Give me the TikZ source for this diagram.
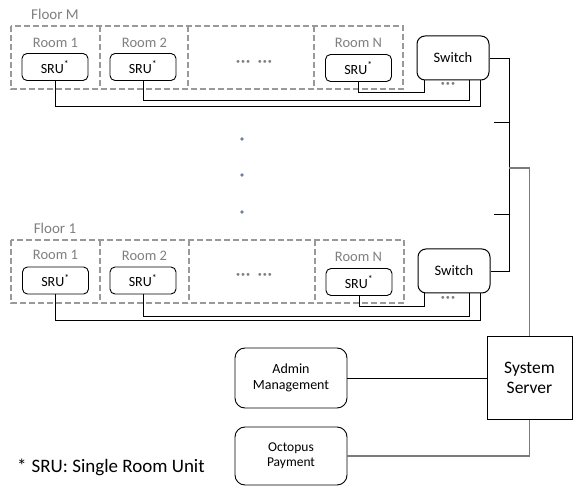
\documentclass[tikz,border=0pt]{standalone}
\usepackage{fontspec}
\setmainfont{Carlito}
\definecolor{dashgray}{HTML}{999999}
\definecolor{labelgray}{HTML}{7F7F7F}
\definecolor{wiregray}{HTML}{7A7A7A}
\definecolor{dotcol}{HTML}{6F8299}
\begin{document}
\begin{tikzpicture}[x=1pt,y=-1pt,
  font=\fontsize{14.5}{16}\selectfont,
  cell/.style={draw=dashgray, line width=1.1pt, dash pattern=on 6pt off 3pt},
  sru/.style={draw, rounded corners=5pt, minimum width=66pt, minimum height=27pt, inner sep=0pt, line width=0.9pt, font=\fontsize{14}{15}\selectfont},
  sw/.style={draw, rounded corners=8pt, minimum width=72pt, minimum height=44pt, inner sep=0pt, line width=1pt, font=\fontsize{14.5}{16}\selectfont},
  lbl/.style={text=labelgray, inner sep=0pt},
  more/.style={text=labelgray, inner sep=0pt, font=\fontsize{20}{20}\selectfont},
  wire/.style={line width=0.9pt},
  gwire/.style={draw=wiregray, line width=1.8pt},
  gwirethin/.style={draw=wiregray, line width=1.3pt},
  app/.style={draw, rounded corners=10pt, minimum width=112pt, minimum height=60pt, inner sep=0pt, line width=0.9pt, align=center},
  vdot/.style={fill=dotcol, draw=none}
]
\useasboundingbox (0,0) rectangle (573,486);

% ---------------- Floor M ----------------
\node[lbl, font=\fontsize{15}{16}\selectfont] (floorM) at (55,14) {Floor M};
\draw[cell] (11,26) rectangle (403,89);
\draw[cell] (100,26) -- (100,89);
\draw[cell] (188,26) -- (188,89);
\draw[cell] (314,26) -- (314,89);
\node[lbl] (rM1) at (55.5,43) {Room 1};
\node[lbl] (rM2) at (144.5,43) {Room 2};
\node[lbl] (rMN) at (358.5,43) {Room N};
\node[sru] (sM1) at (55,67) {SRU\textsuperscript{*}};
\node[sru] (sM2) at (143,67) {SRU\textsuperscript{*}};
\node[sru] (sMN) at (358.5,68) {SRU\textsuperscript{*}};
\node[more] (dotsM) at (254,64) {···\,\,···};
\node[sw] (swM) at (453,58) {Switch};
\node[more] (swdotsM) at (448,86) {···};

\coordinate (bM1) at (480,106);
\coordinate (bM2) at (469,100);
\coordinate (bMN) at (424,92);
\draw[wire] (sM1.south) |- (bM1) -- (bM1 |- swM.south);
\draw[wire] (sM2.south) |- (bM2) -- (bM2 |- swM.south);
\draw[wire] (sMN.south) |- (bMN) -- (bMN |- swM.south);

% ---------------- vertical dots ----------------
\fill[vdot] (242,139) circle (1.8);
\fill[vdot] (242,175) circle (1.8);
\fill[vdot] (242,212) circle (1.8);

% ---------------- Floor 1 ----------------
\node[lbl, font=\fontsize{15}{16}\selectfont] (floor1) at (55,228) {Floor 1};
\draw[cell] (11,240) rectangle (404,303);
\draw[cell] (100,240) -- (100,303);
\draw[cell] (189,240) -- (189,303);
\draw[cell] (315,240) -- (315,303);
\node[lbl] (r11) at (55.5,255) {Room 1};
\node[lbl] (r12) at (144.5,256) {Room 2};
\node[lbl] (r1N) at (358.5,257) {Room N};
\node[sru] (s11) at (55.5,280.5) {SRU\textsuperscript{*}};
\node[sru] (s12) at (143,280.5) {SRU\textsuperscript{*}};
\node[sru] (s1N) at (359,282) {SRU\textsuperscript{*}};
\node[more] (dots1) at (254,277) {···\,\,···};
\node[sw] (sw1) at (454,271) {Switch};
\node[more] (swdots1) at (448,300) {···};

\coordinate (b11) at (480,320);
\coordinate (b12) at (469,316);
\coordinate (b1N) at (424,306);
\draw[wire] (s11.south) |- (b11) -- (b11 |- sw1.south);
\draw[wire] (s12.south) |- (b12) -- (b12 |- sw1.south);
\draw[wire] (s1N.south) |- (b1N) -- (b1N |- sw1.south);

% ---------------- trunk ----------------
\coordinate (tr) at (509,0);
\draw[wire] (swM.east) -| (tr |- sw1.east) -- (sw1.east);
\coordinate (tk1) at (494,122);
\coordinate (tk2) at (494,214);
\draw[wire] (tk1) -- (tk1 -| tr);
\draw[wire] (tk2) -- (tk2 -| tr);

% ---------------- server and apps ----------------
\node[draw, minimum width=85pt, minimum height=82pt, inner sep=0pt, line width=1pt,
      align=center, font=\fontsize{17.5}{20}\selectfont] (server) at (529.5,378) {System\\Server};
\node[app, font=\fontsize{14}{15.5}\selectfont] (admin) at (291,378) {Admin\\Management};
\node[app, minimum height=58pt, font=\fontsize{13.5}{15}\selectfont] (octo) at (291,456) {Octopus\\Payment};

\coordinate (br) at (509,168);
\draw[gwire] (br) -| (server.north);
\draw[wire] (admin.east) -- (admin.east -| server.west);
\draw[gwirethin] (octo.east) -| (server.south);

% ---------------- footnote ----------------
\node[anchor=west, inner sep=0pt, font=\fontsize{19}{21}\selectfont] (note) at (17,467) {*\hspace{5pt}SRU: Single Room Unit};
\end{tikzpicture}
\end{document}
